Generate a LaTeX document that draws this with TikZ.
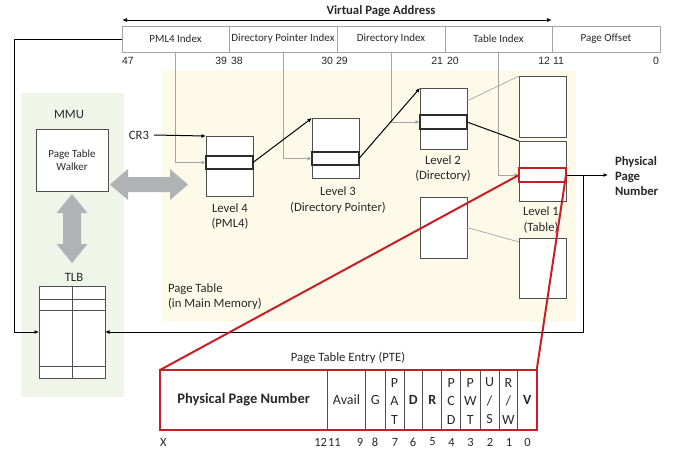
\documentclass[tikz,border=0pt]{standalone}
\usepackage{fontspec}
\setmainfont{Carlito}
\newfontfamily\arialfont{Liberation Sans}
\usetikzlibrary{arrows.meta}
\definecolor{ptyellow}{RGB}{253,250,233}
\definecolor{mmugreen}{RGB}{239,245,232}
\definecolor{bigarrow}{RGB}{176,178,182}
\definecolor{idxgray}{RGB}{165,165,165}
\definecolor{boxgray}{RGB}{80,80,80}
\definecolor{entrygray}{RGB}{45,45,45}
\definecolor{ptered}{RGB}{200,30,40}
\definecolor{txt}{RGB}{40,40,40}
\begin{document}
\begin{tikzpicture}[x=1pt,y=-1pt,
 every node/.style={inner sep=0pt,outer sep=0pt,text=txt},
 fld/.style={draw=idxgray,line width=0.8pt,minimum height=26pt,font=\fontsize{11}{13}\selectfont},
 anum/.style={font=\arialfont\fontsize{10.5}{12}\selectfont},
 tbox/.style={draw=boxgray,line width=0.9pt,fill=white,minimum width=47pt},
 tentry/.style={draw=entrygray,line width=1.2pt,fill=white,minimum width=47pt},
 lbl/.style={font=\fontsize{12.7}{15.5}\selectfont,align=center},
 idxl/.style={draw=idxgray,line width=0.8pt,-{Latex[length=4.5pt,width=4pt]}},
 blk/.style={draw=black,line width=1pt,-{Latex[length=4.5pt,width=4pt]}},
 redl/.style={draw=ptered,line width=2pt},
 pfld/.style={draw=boxgray,line width=0.8pt,minimum height=60pt},
 ptxt/.style={font=\fontsize{14}{18.5}\selectfont,align=center},
 pnum/.style={font=\fontsize{12.5}{14}\selectfont},
]
\useasboundingbox (0,0) rectangle (677,451);
% backgrounds
\fill[mmugreen] (21,93) rectangle (124,397);
\fill[ptyellow] (162,70) rectangle (576,322);

% big gray double arrows
\fill[bigarrow] (110,184.5) -- (128,169) -- (128,177) -- (170,177) -- (170,169) -- (188,184.5)
  -- (170,200) -- (170,192) -- (128,192) -- (128,200) -- cycle;
\fill[bigarrow] (72,194) -- (87.5,213) -- (81,213) -- (81,244) -- (87.5,244) -- (72,263)
  -- (56.5,244) -- (63,244) -- (63,213) -- (56.5,213) -- cycle;

% virtual address
\node[font=\bfseries\fontsize{12.7}{15}\selectfont] (vpa) at (381,11) {Virtual Page Address};
\node[fld,minimum width=107pt] (pml4) at (175.5,39) {PML4 Index};
\node[fld,minimum width=108pt] (dpi) at (283,39) {Directory Pointer Index};
\node[fld,minimum width=108pt] (di) at (391,39) {Directory Index};
\node[fld,minimum width=107pt] (ti) at (498.5,39) {Table Index};
\node[fld,minimum width=108pt] (po) at (606,39) {Page Offset};
\draw[{Latex[length=5pt,width=4pt]}-{Latex[length=5pt,width=4pt]},line width=1pt]
  ([yshift=6pt]pml4.north west) -- ([yshift=6pt]ti.north east);

\node[anum,anchor=west] (n47) at (122,61) {47};
\node[anum,anchor=east] (n39) at (227,61) {39};
\node[anum,anchor=west] (n38) at (231,61) {38};
\node[anum,anchor=east] (n30) at (333,61) {30};
\node[anum,anchor=west] (n29) at (336,61) {29};
\node[anum,anchor=east] (n21) at (443,61) {21};
\node[anum,anchor=west] (n20) at (447,61) {20};
\node[anum,anchor=east] (n12) at (550,61) {12};
\node[anum,anchor=west] (n11) at (553,61) {11};
\node[anum,anchor=east] (n0) at (659,61) {0};

% MMU
\node[lbl] (mmu) at (69,114) {MMU};
\node[draw=boxgray,line width=0.9pt,fill=white,minimum width=72pt,minimum height=62pt] (ptw) at (72,160) {};
\node[font=\fontsize{11}{13}\selectfont,align=center] (ptwt) at (72,160) {Page Table\\Walker};
\node[lbl] (tlbl) at (74,277) {TLB};
\node[draw=boxgray,line width=0.9pt,fill=white,minimum width=66pt,minimum height=92pt] (tlb) at (72,332) {};
\draw[boxgray,line width=0.9pt] (tlb.north) -- (tlb.south);
\draw[boxgray,line width=0.9pt] ([yshift=-13pt]tlb.north west) -- ([yshift=-13pt]tlb.north east);
\draw[boxgray,line width=0.9pt] ([yshift=-24pt]tlb.north west) -- ([yshift=-24pt]tlb.north east);
\draw[boxgray,line width=0.9pt] ([yshift=12pt]tlb.south west) -- ([yshift=12pt]tlb.south east);

% page table levels
\node[tbox,minimum height=60pt] (l4) at (229.5,166) {};
\node[tentry,minimum height=13pt] (l4e) at (229.5,162.5) {};
\node[tbox,minimum height=60pt] (l3) at (335.5,148) {};
\node[tentry,minimum height=13pt] (l3e) at (335.5,158.5) {};
\node[tbox,minimum height=61pt] (l2) at (443.5,118.5) {};
\node[tentry,minimum height=14pt] (l2e) at (443.5,122) {};
\node[tbox,minimum height=61pt] (l2c) at (443.5,227.5) {};
\node[tbox,minimum height=61pt] (l1a) at (542.5,106.5) {};
\node[tbox,minimum height=60pt] (l1b) at (542.5,171) {};
\node[tbox,minimum height=60pt] (l1c) at (542.5,268) {};
\node[draw=ptered,line width=1.6pt,fill=white,minimum width=47pt,minimum height=14pt] (l1e) at (542.5,175) {};

\node[lbl] (l4l) at (230,216.5) {Level 4\\(PML4)};
\node[lbl] (l3l) at (338,200) {Level 3\\(Directory Pointer)};
\node[lbl] (l2l) at (443,168.5) {Level 2\\(Directory)};
\node[lbl] (l1l) at (541,220) {Level 1\\(Table)};
\node[lbl,align=left,anchor=west] (ptl) at (168,296.5) {Page Table\\(in Main Memory)};
\node[lbl] (cr3) at (139,135) {CR3};
\node[font=\bfseries\fontsize{12.7}{15}\selectfont,align=left,anchor=west,inner xsep=7pt] (ppn) at (608,176) {Physical\\Page\\Number};

% index connectors
\draw[idxl] (pml4.south) |- (l4e.west);
\draw[idxl] (dpi.south) |- (l3e.west);
\draw[idxl] (di.south) |- (l2e.west);
\draw[idxl] (ti.south) |- (l1e.west);

% walk connectors
\draw[blk] ([xshift=5pt]cr3.east) -- (l4.north west);
\draw[blk] (l4e.east) -- (l3.north west);
\draw[blk] (l3e.east) -- (l2.north west);
\draw[black,line width=1pt] (l2e.east) -- (l1b.north west);
\draw[idxgray,line width=0.7pt] ([yshift=-13pt]l2.north east) -- (l1a.north west);
\draw[idxgray,line width=0.7pt] (l2c.east) -- ([yshift=-4pt]l1c.north west);

% outputs
\draw[blk] (l1e.east) -- (l1e.east -| ppn.west);
\coordinate (tap) at (583,175);
\draw[blk] (tap) |- (tlb.east);
\coordinate (lft) at (14,39);
\draw[blk] (pml4.west) -- (lft) |- (tlb.west);

% PTE
\node[lbl] (ptel) at (348,357.5) {Page Table Entry (PTE)};
\node[pfld,minimum width=167.3pt] (f1) at (243.65,400) {};
\node[pfld,minimum width=38.4pt] (f2) at (346.5,400) {};
\node[pfld,minimum width=19.3pt] (f3) at (375.35,400) {};
\node[pfld,minimum width=19pt] (f4) at (394.5,400) {};
\node[pfld,minimum width=18.7pt] (f5) at (413.35,400) {};
\node[pfld,minimum width=19pt] (f6) at (432.2,400) {};
\node[pfld,minimum width=19pt] (f7) at (451.2,400) {};
\node[pfld,minimum width=19.3pt] (f8) at (470.35,400) {};
\node[pfld,minimum width=19pt] (f9) at (489.5,400) {};
\node[pfld,minimum width=18.7pt] (f10) at (508.35,400) {};
\node[pfld,minimum width=19pt] (f11) at (527.2,400) {};
\node[draw=ptered,line width=2pt,minimum width=376.7pt,minimum height=60pt] (pte) at (348.35,400) {};

\node[font=\bfseries\fontsize{14.5}{17}\selectfont] (t1) at (f1) {Physical Page Number};
\node[ptxt] (t2) at (f2) {Avail};
\node[ptxt] (t3) at (f3) {G};
\node[ptxt] (t4) at ([yshift=-1pt]f4.center) {P\\A\\T};
\node[ptxt,font=\bfseries\fontsize{14}{18.5}\selectfont] (t5) at (f5) {D};
\node[ptxt,font=\bfseries\fontsize{14}{18.5}\selectfont] (t6) at (f6) {R};
\node[ptxt] (t7) at ([yshift=-1pt]f7.center) {P\\C\\D};
\node[ptxt] (t8) at ([yshift=-1pt]f8.center) {P\\W\\T};
\node[ptxt] (t9) at ([yshift=-1pt]f9.center) {U\\/\\S};
\node[ptxt] (t10) at ([yshift=-1pt]f10.center) {R\\/\\W};
\node[ptxt,font=\bfseries\fontsize{14}{18.5}\selectfont] (t11) at (f11) {V};

\draw[redl] (l1e.west) -- (pte.north west);
\draw[redl] (l1e.east) -- (pte.north east);

\node[pnum,anchor=west] (bx) at (160,442) {X};
\node[pnum,anchor=east] (b12) at (327,442) {12};
\node[pnum,anchor=west] (b11) at (328,442) {11};
\node[pnum] (b9) at (360,442) {9};
\node[pnum] (b8) at (375,442) {8};
\node[pnum] (b7) at (395,442) {7};
\node[pnum] (b6) at (413,442) {6};
\node[pnum] (b5) at (432.5,442) {5};
\node[pnum] (b4) at (451.5,442) {4};
\node[pnum] (b3) at (470.5,442) {3};
\node[pnum] (b2) at (490,442) {2};
\node[pnum] (b1) at (509,442) {1};
\node[pnum] (b0) at (527.5,442) {0};
\end{tikzpicture}
\end{document}
